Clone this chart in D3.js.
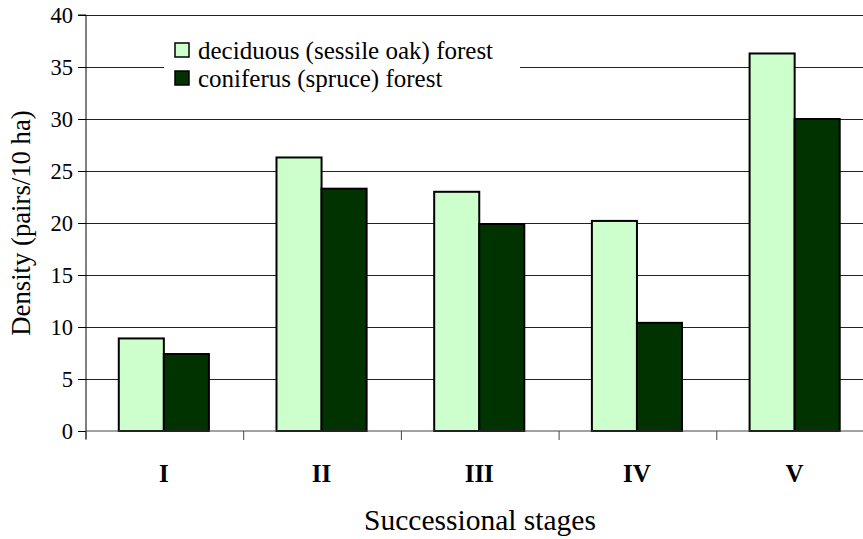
<!DOCTYPE html>
<html><head><meta charset="utf-8">
<script src="https://cdn.jsdelivr.net/npm/d3@7"></script>
</head><body style="margin:0;background:#fff"><svg id="c" width="863" height="539"></svg>
<script>
const categories = ["I","II","III","IV","V"];
const seriesNames = ["deciduous (sessile oak) forest","coniferus (spruce) forest"];
const deciduous = [8.9, 26.3, 23.0, 20.2, 36.3];
const coniferus = [7.4, 23.3, 19.9, 10.4, 30.0];
const yTicks = [0,5,10,15,20,25,30,35,40];
const colors = ["#CCFFCC","#003300"];

(function(){
const FONT = '"Liberation Serif"';
const svg = d3.select("#c");
const left = 86, plotTop = 15, bottom = 431, band = 157.7;
const x = d3.scaleBand().domain(categories).range([left, left + band*categories.length]).paddingInner(0).paddingOuter(0);
const y = d3.scaleLinear().domain([0,40]).range([bottom, plotTop]);
const bw = x.bandwidth()/3.5;
const off = (x.bandwidth() - 2*bw)/2 - 1;

// gridlines
svg.append("g").selectAll("line").data(yTicks.filter(d=>d>0)).join("line")
  .attr("x1", left).attr("x2", 863).attr("y1", d=>y(d)).attr("y2", d=>y(d))
  .attr("stroke", "#222").attr("stroke-width", 1).attr("shape-rendering","crispEdges");

// bars
const data = [deciduous, coniferus];
data.forEach((vals, si) => {
  svg.append("g").selectAll("rect").data(vals).join("rect")
    .attr("x", (d,i) => x(categories[i]) + off + si*bw)
    .attr("y", d => y(d))
    .attr("width", bw)
    .attr("height", d => y(0) - y(d))
    .attr("fill", colors[si]).attr("stroke", "#000").attr("stroke-width", 2);
});

// y axis
const yAxis = d3.axisLeft(y).tickValues(yTicks).tickSize(8).tickPadding(5);
const gy = svg.append("g").attr("transform", `translate(${left},0)`).call(yAxis);
gy.attr("font-family", null);
gy.select(".domain").attr("d", `M-8,${plotTop}H0V${bottom+8}`).attr("stroke","#000");
gy.selectAll("line").attr("stroke","#000");
gy.selectAll("text").attr("font-size", 22.5).attr("fill","#000").style("font-family", FONT);

// x axis
const gx = svg.append("g").attr("transform", `translate(0,${bottom})`);
gx.append("line").attr("x1", left).attr("x2", 863).attr("y1",0).attr("y2",0).attr("stroke","#444").attr("stroke-width",1);
gx.selectAll(".tk").data(categories).join("line").attr("class","tk")
  .attr("x1", d=>x(d)).attr("x2", d=>x(d)).attr("y1",0).attr("y2",9).attr("stroke","#444");
gx.selectAll(".lb").data(categories).join("text").attr("class","lb")
  .attr("x", d=>x(d)+x.bandwidth()/2 - 1).attr("y", 51).attr("text-anchor","middle")
  .attr("font-size", 25).attr("font-weight","bold").style("font-family", FONT).text(d=>d);

// axis titles
svg.append("text").attr("x", 480).attr("y", 530).attr("text-anchor","middle").attr("font-size", 29.5).style("font-family", FONT).text("Successional stages");
svg.append("text").attr("transform","translate(30,223) rotate(-90)").attr("text-anchor","middle").attr("font-size", 26.7).style("font-family", FONT).text("Density (pairs/10 ha)");

// legend
const lg = svg.append("g");
lg.append("rect").attr("x",164).attr("y",30).attr("width",356).attr("height",72).attr("fill","#fff");
seriesNames.forEach((n,i)=>{
  lg.append("rect").attr("x",175).attr("y",43+i*28).attr("width",14).attr("height",14)
    .attr("fill",colors[i]).attr("stroke","#000").attr("stroke-width",1.5);
  lg.append("text").attr("x",198).attr("y",58.5+i*28).attr("font-size",25).style("font-family", FONT).text(n);
});
})();
</script></body></html>
